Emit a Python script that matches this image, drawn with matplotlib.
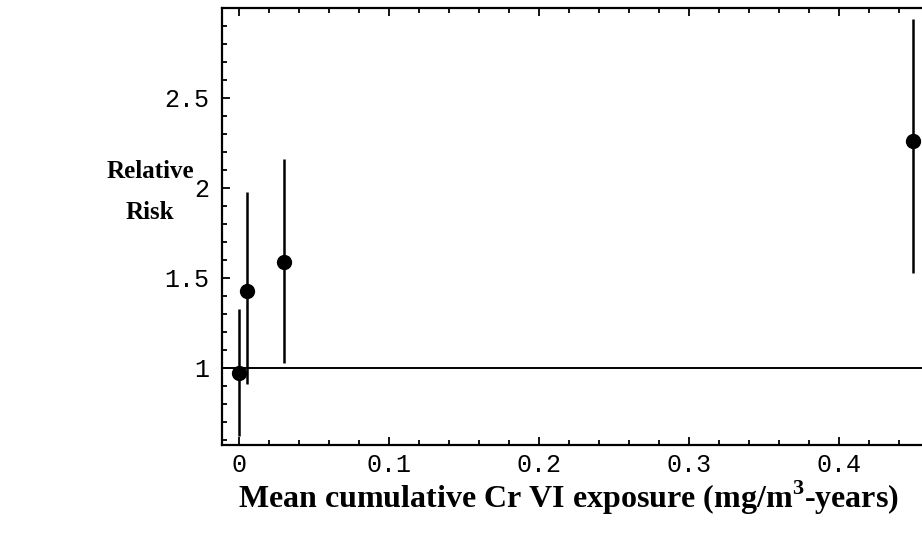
import matplotlib
matplotlib.use("Agg")
import matplotlib.pyplot as plt
from matplotlib.ticker import MultipleLocator, FuncFormatter

# exposure (mg/m3-years) and relative risk with confidence limits
exposure = [0.0, 0.0053, 0.030, 0.449]
rel_risk = [0.97, 1.43, 1.59, 2.26]
rr_low = [0.62, 0.91, 1.03, 1.53]
rr_high = [1.33, 1.98, 2.16, 2.94]

x_ticks = [0, 0.1, 0.2, 0.3, 0.4]
y_ticks = [1, 1.5, 2, 2.5]

# superscript in the axis label should use the same serif face
plt.rcParams["mathtext.fontset"] = "custom"
plt.rcParams["mathtext.bf"] = "Liberation Serif:bold"
plt.rcParams["mathtext.rm"] = "Liberation Serif"


def fmt(v, pos):
    """Mathematica-like tick labels: 0, 0.1, 1, 1.5 ..."""
    s = ("%.2f" % v).rstrip("0").rstrip(".")
    return s


def plot_risk():
    fig = plt.figure(figsize=(9.22, 5.43), dpi=100)
    ax = fig.add_axes([222 / 922, 98 / 543, 700 / 922, 437 / 543])

    # reference line at RR = 1
    ax.axhline(1.0, color="black", lw=1.4, zorder=1)

    yerr = [[r - l for r, l in zip(rel_risk, rr_low)],
            [h - r for r, h in zip(rel_risk, rr_high)]]
    ax.errorbar(exposure, rel_risk, yerr=yerr, fmt="o", color="black",
                ms=10, elinewidth=1.8, capsize=0, zorder=3)

    ax.set_xlim(-0.0113, 0.4553)
    ax.set_ylim(0.572, 3.0)

    ax.set_xticks(x_ticks)
    ax.set_yticks(y_ticks)
    ax.xaxis.set_minor_locator(MultipleLocator(0.02))
    ax.yaxis.set_minor_locator(MultipleLocator(0.1))
    ax.xaxis.set_major_formatter(FuncFormatter(fmt))
    ax.yaxis.set_major_formatter(FuncFormatter(fmt))

    ax.spines["right"].set_visible(False)
    for side in ["left", "bottom", "top"]:
        ax.spines[side].set_linewidth(1.6)

    ax.tick_params(which="both", direction="in", top=True, right=False,
                   width=1.3, labelsize=18)
    ax.tick_params(axis="x", pad=6)
    ax.tick_params(axis="y", pad=9)
    ax.tick_params(which="major", length=6)
    ax.tick_params(which="minor", length=3.5)
    for lab in ax.get_xticklabels() + ax.get_yticklabels():
        lab.set_family("Liberation Mono")

    fig.text(150 / 922, 1 - 192 / 543, "Relative\nRisk", ha="center",
             va="center", family="Liberation Serif", fontweight="bold",
             fontsize=18, linespacing=2.0)
    fig.text(568 / 922, 1 - 498 / 543,
             r"Mean cumulative Cr VI exposure (mg/m$^{\mathbf{3}}$-years)",
             ha="center", va="center", family="Liberation Serif",
             fontweight="bold", fontsize=23)

    fig.savefig("out.png", dpi=100)


plot_risk()
